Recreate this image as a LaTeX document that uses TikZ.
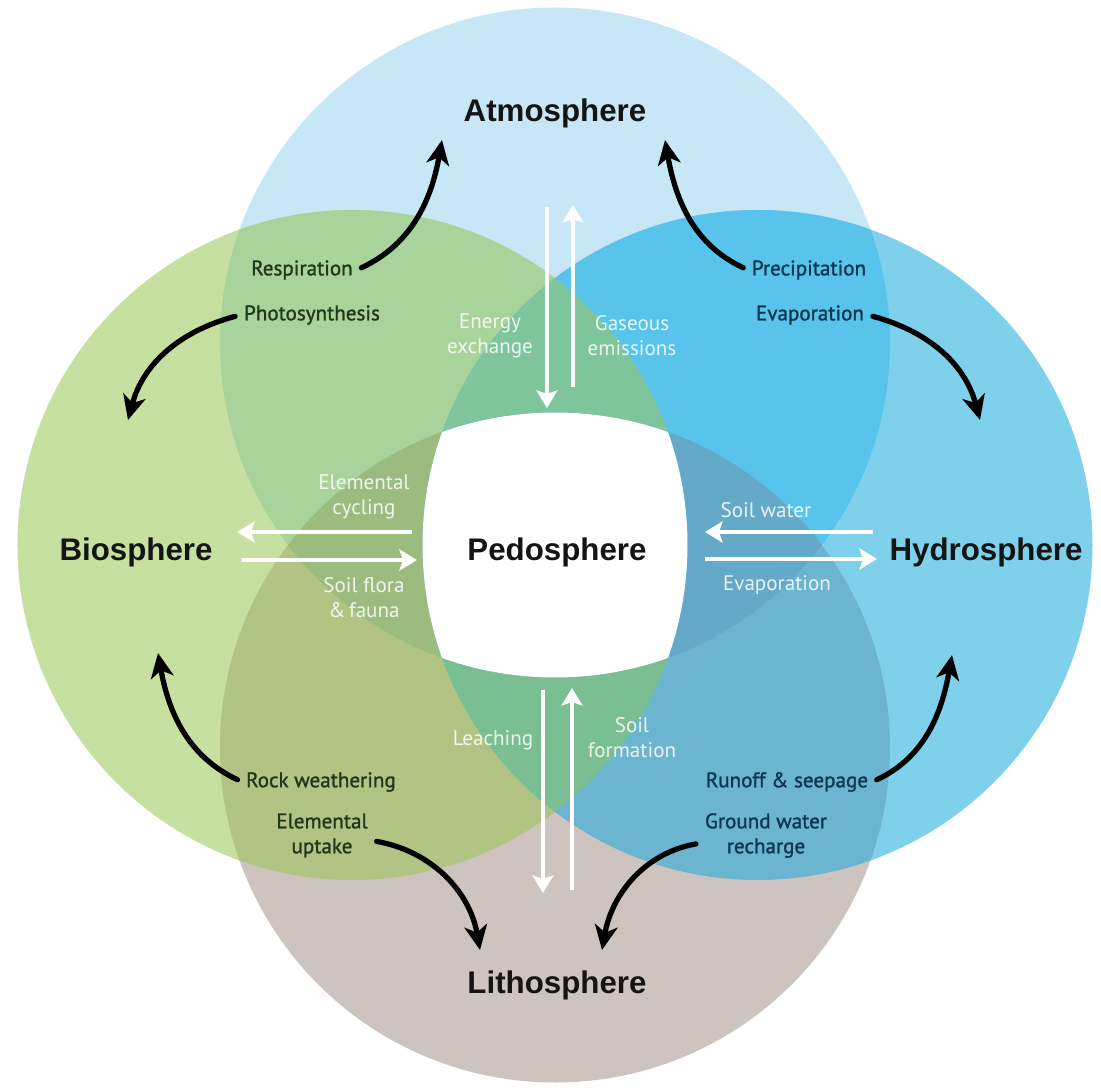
\documentclass[tikz,border=0pt]{standalone}
\usepackage{fontspec}
\usepackage{tikz}
\usetikzlibrary{arrows.meta}

\newfontfamily\headfont{Liberation Sans}
\newfontfamily\lblfont{PT Sans}
\newfontfamily\darklblfont{PT Sans}[FakeBold=1.2]

\definecolor{atmcol}{HTML}{C8E7F6}
\definecolor{biocol}{HTML}{C5E0A0}
\definecolor{hydcol}{HTML}{7ED0EB}
\definecolor{lithcol}{HTML}{CDC4C0}
\definecolor{atmbio}{HTML}{A8D49B}
\definecolor{atmhyd}{HTML}{58C4EB}
\definecolor{lithbio}{HTML}{B1C483}
\definecolor{lithhyd}{HTML}{6CB5D0}
\definecolor{atmbiohyd}{HTML}{7EC59C}
\definecolor{lithbiohyd}{HTML}{7ABF91}
\definecolor{atmlithbio}{HTML}{9CBB7F}
\definecolor{atmlithhyd}{HTML}{64AAC8}
\definecolor{darkgreen}{HTML}{1F3819}
\definecolor{darkblue}{HTML}{0B3550}

\newcommand{\atmcirc}{(0cm, 4.05cm) circle (6.7cm)}
\newcommand{\biocirc}{(-4.05cm, 0cm) circle (6.7cm)}
\newcommand{\hydcirc}{(4.05cm, 0cm) circle (6.7cm)}
\newcommand{\lithcirc}{(0cm, -4.05cm) circle (6.7cm)}

\begin{document}
\begin{tikzpicture}[
		sphere/.style={font=\headfont\bfseries\fontsize{17.8}{20}\selectfont, text=black!92},
		dlabel/.style={font=\lblfont\fontsize{12}{14.2}\selectfont, align=center, inner sep=2pt},
		green_lbl/.style={dlabel, font=\darklblfont\fontsize{12}{14.2}\selectfont, text=darkgreen},
		blue_lbl/.style={dlabel, font=\darklblfont\fontsize{12}{14.2}\selectfont, text=darkblue},
		white_lbl/.style={dlabel, text=white, text opacity=0.85},
		cycle_arrow/.style={line width=3pt, line cap=round, shorten <=3pt, -{Stealth[length=14pt, width=13pt, inset=4pt]}},
		flux_arrow/.style={white, line width=2.6pt, -{Stealth[length=10pt, width=12pt, inset=2pt]}}
	]
  \useasboundingbox (-11.1cm, -10.92cm) rectangle (10.92cm, 10.9cm);

  \fill[atmcol] \atmcirc;
  \fill[biocol] \biocirc;
  \fill[hydcol] \hydcirc;
  \fill[lithcol] \lithcirc;
  \begin{scope}
    \clip \atmcirc;
    \fill[atmbio] \biocirc;
    \fill[atmhyd] \hydcirc;
  \end{scope}
  \begin{scope}
    \clip \lithcirc;
    \fill[lithbio] \biocirc;
    \fill[lithhyd] \hydcirc;
  \end{scope}
  \begin{scope}
    \clip \atmcirc; \clip \biocirc;
    \fill[atmbiohyd] \hydcirc;
    \fill[atmlithbio] \lithcirc;
  \end{scope}
  \begin{scope}
    \clip \lithcirc; \clip \hydcirc;
    \fill[lithbiohyd] \biocirc;
    \fill[atmlithhyd] \atmcirc;
  \end{scope}
  \begin{scope}
    \clip \atmcirc; \clip \biocirc; \clip \hydcirc;
    \fill[white] \lithcirc;
  \end{scope}

  \node (atm) [sphere] at (0cm, 8.64cm) {Atmosphere};
  \node (bio) [sphere] at (-8.38cm, -0.14cm) {Biosphere};
  \node (hyd) [sphere] at (8.62cm, -0.14cm) {Hydrosphere};
  \node (lith) [sphere] at (0.04cm, -8.8cm) {Lithosphere};
  \node (pedo) [sphere] at (0.04cm, -0.14cm) {Pedosphere};

  \node (resp) [green_lbl] at (-5.06cm, 5.5cm) {Respiration};
  \node (photo) [green_lbl] at (-4.86cm, 4.6cm) {Photosynthesis};
  \node (precip) [blue_lbl] at (5.08cm, 5.5cm) {Precipitation};
  \node (evap_a) [blue_lbl] at (5.1cm, 4.6cm) {Evaporation};
  \node (rock) [green_lbl] at (-4.68cm, -4.74cm) {Rock weathering};
  \node (uptake) [green_lbl] at (-4.66cm, -5.81cm) {Elemental\\uptake};
  \node (runoff) [blue_lbl] at (4.64cm, -4.74cm) {Runoff \& seepage};
  \node (recharge) [blue_lbl] at (4.22cm, -5.81cm) {Ground water\\recharge};

  \node (energy) [white_lbl] at (-1.3cm, 4.18cm) {Energy\\exchange};
  \node (gas) [white_lbl] at (1.54cm, 4.18cm) {Gaseous\\emissions};
  \node (cycling) [white_lbl] at (-3.82cm, 0.96cm) {Elemental\\cycling};
  \node (flora) [white_lbl] at (-3.82cm, -1.06cm) {Soil flora\\\&\,fauna};
  \node (soilw) [white_lbl] at (4.22cm, 0.7cm) {Soil water};
  \node (evap_b) [white_lbl] at (4.44cm, -0.8cm) {Evaporation};
  \node (leach) [white_lbl] at (-1.24cm, -3.9cm) {Leaching};
  \node (form) [white_lbl] at (1.54cm, -3.86cm) {Soil\\formation};

  \coordinate (atm_l) at (-2.26cm, 8.1cm);
  \coordinate (atm_r) at (2.2cm, 8.1cm);
  \coordinate (bio_t) at (-8.54cm, 2.5cm);
  \coordinate (bio_b) at (-7.94cm, -2.16cm);
  \coordinate (hyd_t) at (8.5cm, 2.5cm);
  \coordinate (hyd_b) at (7.94cm, -2.2cm);
  \coordinate (lith_l) at (-1.5cm, -8.1cm);
  \coordinate (lith_r) at (0.94cm, -8.1cm);

  \draw[cycle_arrow] (resp.east) to [out=25, in=-100] (atm_l);
  \draw[cycle_arrow] (precip.west) to [out=155, in=-80] (atm_r);
  \draw[cycle_arrow] (photo.west) to [out=195, in=75] (bio_t);
  \draw[cycle_arrow] (evap_a.east) to [out=-15, in=105] (hyd_t);
  \draw[cycle_arrow] (rock.west) to [out=155, in=-80] (bio_b);
  \draw[cycle_arrow] (runoff.east) to [out=25, in=-100] (hyd_b);
  \draw[cycle_arrow] ([yshift=-0.1cm]uptake.east) to [out=-10, in=100] (lith_l);
  \draw[cycle_arrow] ([yshift=-0.15cm]recharge.west) to [out=190, in=80] (lith_r);

  \coordinate (top_a) at (-0.16cm, 6.76cm);  \coordinate (top_b) at (-0.16cm, 2.74cm);
  \coordinate (top_c) at (0.36cm, 3.16cm);   \coordinate (top_d) at (0.36cm, 6.8cm);
  \coordinate (bot_a) at (-0.24cm, -2.9cm);  \coordinate (bot_b) at (-0.24cm, -6.96cm);
  \coordinate (bot_c) at (0.34cm, -6.9cm);   \coordinate (bot_d) at (0.34cm, -2.86cm);
  \coordinate (lft_a) at (-2.86cm, 0.26cm);  \coordinate (lft_b) at (-6.36cm, 0.26cm);
  \coordinate (lft_c) at (-6.26cm, -0.3cm);  \coordinate (lft_d) at (-2.76cm, -0.3cm);
  \coordinate (rgt_a) at (6.36cm, 0.26cm);   \coordinate (rgt_b) at (3.0cm, 0.26cm);
  \coordinate (rgt_c) at (3.0cm, -0.28cm);   \coordinate (rgt_d) at (6.44cm, -0.28cm);

  \draw[flux_arrow] (top_a) -- (top_b);
  \draw[flux_arrow] (top_c) -- (top_d);
  \draw[flux_arrow] (bot_a) -- (bot_b);
  \draw[flux_arrow] (bot_c) -- (bot_d);
  \draw[flux_arrow] (lft_a) -- (lft_b);
  \draw[flux_arrow] (lft_c) -- (lft_d);
  \draw[flux_arrow] (rgt_a) -- (rgt_b);
  \draw[flux_arrow] (rgt_c) -- (rgt_d);
\end{tikzpicture}
\end{document}
